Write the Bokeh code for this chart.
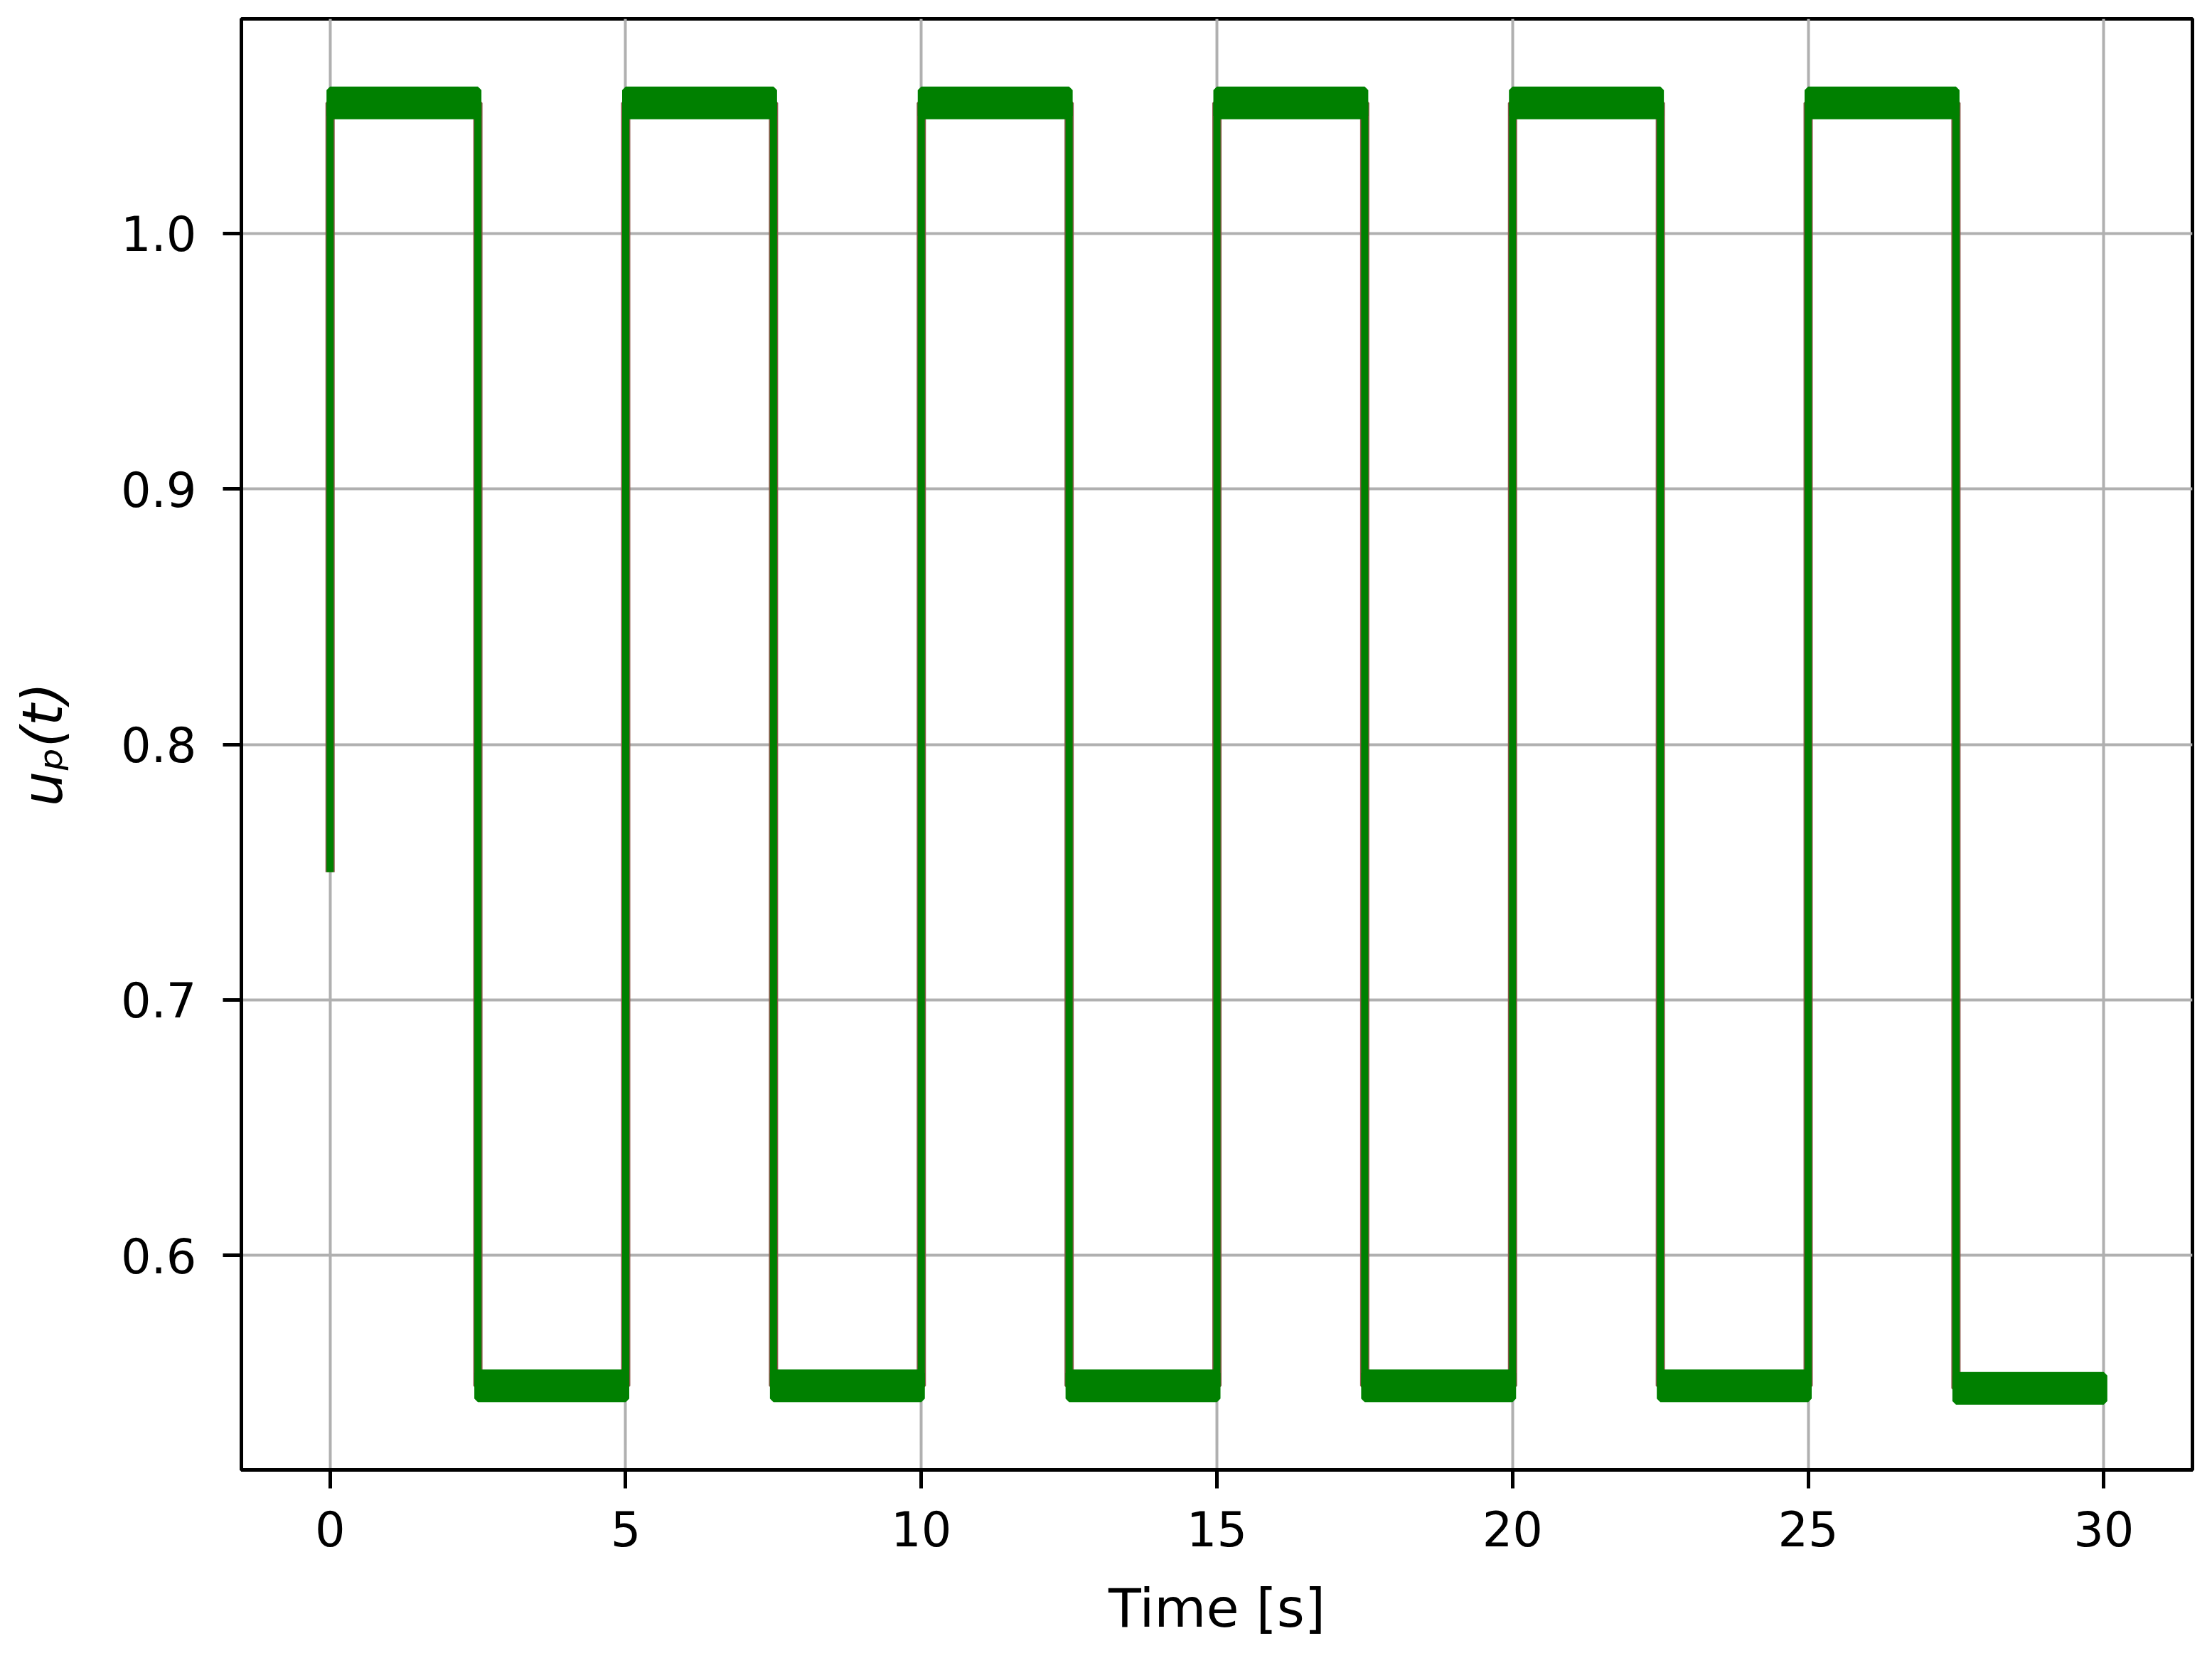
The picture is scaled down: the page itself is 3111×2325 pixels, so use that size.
from bokeh.plotting import figure
from bokeh.models import ColumnDataSource, FixedTicker, Range1d
from bokeh.embed import file_html
from bokeh.resources import INLINE

# ---- data ----
switch_times = [0.0, 2.5, 5.0, 7.5, 10.0, 12.5, 15.0, 17.5, 20.0, 22.5, 25.0, 27.5, 30.0]
start_value = 0.75
plateau_levels = [1.051, 0.549, 1.051, 0.549, 1.051, 0.549, 1.051, 0.549, 1.051, 0.549, 1.051, 0.548]
noise_half_band = [0.005, 0.005, 0.005, 0.005, 0.005, 0.005,
                   0.005, 0.005, 0.005, 0.005, 0.005, 0.005]
x_ticks = [0, 5, 10, 15, 20, 25, 30]
y_ticks = [0.6, 0.7, 0.8, 0.9, 1.0]
x_label = "Time [s]"
y_label = "uₚ(t)"

# square-wave path
t_path = [switch_times[0]]
u_path = [start_value]
for i, lev in enumerate(plateau_levels):
    t_path += [switch_times[i], switch_times[i + 1]]
    u_path += [lev, lev]

line_src = ColumnDataSource(dict(t=t_path, u=u_path))
band_src = ColumnDataSource(dict(
    left=switch_times[:-1],
    right=switch_times[1:],
    bottom=[l - h for l, h in zip(plateau_levels, noise_half_band)],
    top=[l + h for l, h in zip(plateau_levels, noise_half_band)],
))

FONT = "DejaVu Sans"

p = figure(width=3095, height=2309, output_backend="svg", toolbar_location=None,
           x_range=Range1d(-1.5, 31.5), y_range=Range1d(0.5161, 1.0839),
           min_border_left=339, min_border_right=12, min_border_top=26,
           min_border_bottom=242)

p.background_fill_color = "white"
p.border_fill_color = "white"
p.outline_line_color = "black"
p.outline_line_width = 5
p.outline_line_alpha = 1.0

# grid
for g in (p.xgrid, p.ygrid):
    g.grid_line_color = "#b0b0b0"
    g.grid_line_width = 4
p.xaxis.ticker = FixedTicker(ticks=x_ticks)
p.yaxis.ticker = FixedTicker(ticks=y_ticks)
p.xgrid.ticker = FixedTicker(ticks=x_ticks)
p.ygrid.ticker = FixedTicker(ticks=y_ticks)

for ax in (p.xaxis, p.yaxis):
    ax.axis_line_color = "black"
    ax.axis_line_width = 5
    ax.major_tick_line_color = "black"
    ax.major_tick_line_width = 5
    ax.major_tick_out = 26
    ax.major_tick_in = 0
    ax.minor_tick_line_color = None
    ax.major_label_text_font = FONT
    ax.major_label_text_font_size = "67px"
    ax.major_label_text_color = "black"
    ax.axis_label_text_font = FONT
    ax.axis_label_text_font_size = "75px"
    ax.axis_label_text_color = "black"
    ax.axis_label_text_font_style = "normal"

p.xaxis.axis_label = x_label
p.yaxis.axis_label = y_label
p.yaxis.axis_label_text_font_style = "italic"
p.yaxis.axis_label_text_font_size = "78px"
p.xaxis.major_label_standoff = 31
p.yaxis.major_label_standoff = 37
p.xaxis.axis_label_standoff = 40
p.yaxis.axis_label_standoff = 62
p.yaxis.major_label_overrides = {v: f"{v:.1f}" for v in y_ticks}

# signals
p.line("t", "u", source=line_src, line_color="#8c564b", line_width=13)
p.line("t", "u", source=line_src, line_color="#008000", line_width=10)
p.quad(left="left", right="right", bottom="bottom", top="top", source=band_src,
       fill_color="#008000", line_color="#008000", line_width=10)

open("out.html", "w").write(file_html(p, INLINE))
